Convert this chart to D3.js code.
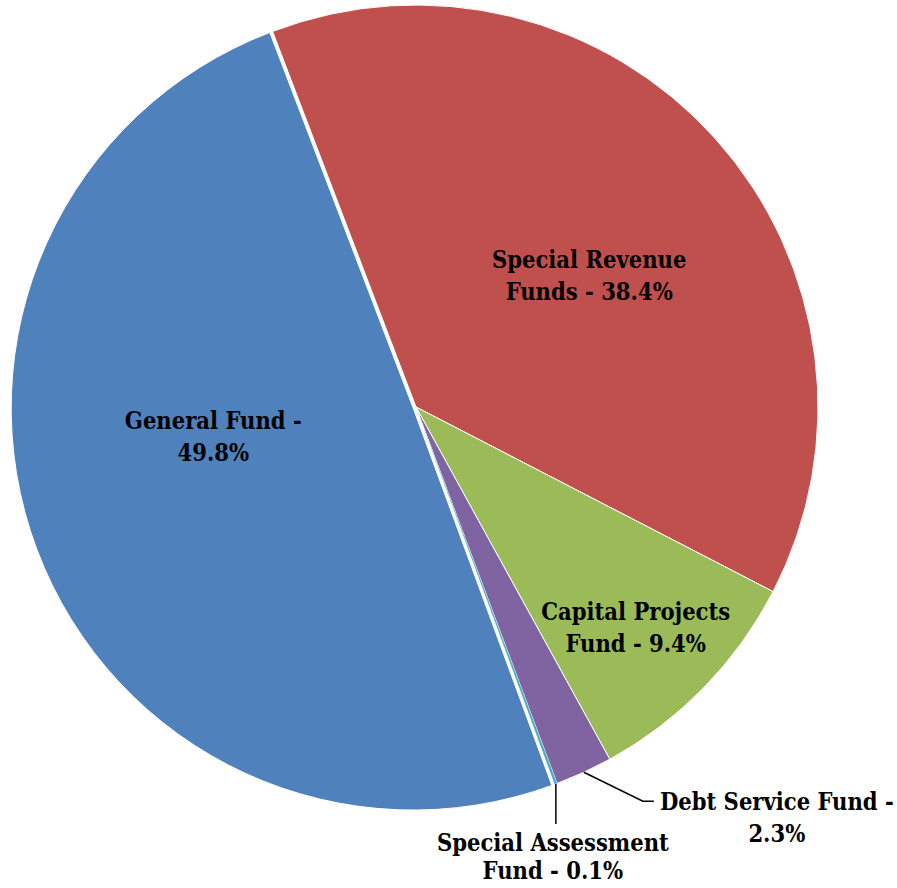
<!DOCTYPE html>
<html>
<head>
<meta charset="utf-8">
<script src="https://cdn.jsdelivr.net/npm/d3@7"></script>
<style>
  body { margin: 0; background: #fff; }
  .lbl { font-family: "DejaVu Serif Condensed", "DejaVu Serif", serif; font-stretch: condensed; font-weight: bold; font-size: 23.5px; fill: #000; }
</style>
</head>
<body>
<script>
// slices in clockwise order, starting from the top-left boundary
var categories = ["Special Revenue Funds", "Capital Projects Fund", "Debt Service Fund", "Special Assessment Fund", "General Fund"];
var values = [38.4, 9.4, 2.3, 0.1, 49.8];
var labelLines = [
  ["Special Revenue", "Funds - 38.4%"],
  ["Capital Projects", "Fund - 9.4%"],
  ["Debt Service Fund -", "2.3%"],
  ["Special Assessment", "Fund - 0.1%"],
  ["General Fund -", "49.8%"]
];
var colors = ["#C0504D", "#9BBB59", "#8064A2", "#4BACC6", "#4F81BD"];
var explode = [0, 0, 0, 0, 3];   // General Fund pulled out a little

var width = 897, height = 888;
var cx = 416, cy = 407, r = 402;
var startDeg = -20.9;

var svg = d3.select("body").append("svg")
  .attr("width", width)
  .attr("height", height);

var g = svg.append("g")
  .attr("transform", "translate(" + cx + "," + cy + ")");

var pie = d3.pie()
  .sort(null)
  .value(function(d) { return d; })
  .startAngle(startDeg * Math.PI / 180)
  .endAngle((startDeg + 360) * Math.PI / 180);

var arcs = pie(values);

var arc = d3.arc().innerRadius(0).outerRadius(r);

function polar(a, rr) {
  return [Math.sin(a) * rr, -Math.cos(a) * rr];
}

g.selectAll("path.slice")
  .data(arcs)
  .enter().append("path")
  .attr("class", "slice")
  .attr("d", arc)
  .attr("transform", function(d, i) {
    var o = polar((d.startAngle + d.endAngle) / 2, explode[i]);
    return "translate(" + o[0] + "," + o[1] + ")";
  })
  .attr("fill", function(d, i) { return colors[i]; })
  .attr("stroke", "#fff")
  .attr("stroke-width", function(d, i) { return i == 3 ? 0 : 1; })
  .attr("stroke-linejoin", "round");

// label placement: radius fraction and angle shift (deg) for the inside labels
var inside = {0: {k: 0.54, da: 4.7}, 1: {k: 0.775, da: 0.9}, 4: {k: 0.51, da: 12}};

arcs.forEach(function(d, i) {
  var mid = (d.startAngle + d.endAngle) / 2;
  if (inside[i]) {
    var p = polar(mid + inside[i].da * Math.PI / 180, r * inside[i].k);
    var t = g.append("text").attr("class", "lbl").attr("text-anchor", "middle");
    t.append("tspan").attr("x", p[0]).attr("y", p[1] - 8).text(labelLines[i][0]);
    t.append("tspan").attr("x", p[0]).attr("y", p[1] + 24).text(labelLines[i][1]);
  }
});

// leader-line labels for the two small slices
var dArc = arcs[2], sArc = arcs[3];
var dMid = (dArc.startAngle + dArc.endAngle) / 2;
var p0 = polar(dMid, r);
var p1 = [p0[0] + 59, p0[1] + 29];
var p2 = [p1[0] + 11, p1[1]];
g.append("polyline")
  .attr("points", [p0, p1, p2].map(function(p) { return p.join(","); }).join(" "))
  .attr("fill", "none").attr("stroke", "#000").attr("stroke-width", 1.5);
var td = g.append("text").attr("class", "lbl").attr("text-anchor", "middle");
td.append("tspan").attr("x", p2[0] + 123).attr("y", p2[1] + 9).text(labelLines[2][0]);
td.append("tspan").attr("x", p2[0] + 123).attr("y", p2[1] + 41).text(labelLines[2][1]);

var sMid = (sArc.startAngle + sArc.endAngle) / 2;
var q0 = polar(sMid, r);
var q1 = [q0[0], q0[1] + 40];
g.append("line")
  .attr("x1", q0[0]).attr("y1", q0[1]).attr("x2", q1[0]).attr("y2", q1[1])
  .attr("stroke", "#000").attr("stroke-width", 1.5);
var ts = g.append("text").attr("class", "lbl").attr("text-anchor", "middle");
ts.append("tspan").attr("x", q1[0] - 3).attr("y", q1[1] + 27).text(labelLines[3][0]);
ts.append("tspan").attr("x", q1[0] - 3).attr("y", q1[1] + 55).text(labelLines[3][1]);
</script>
</body>
</html>
